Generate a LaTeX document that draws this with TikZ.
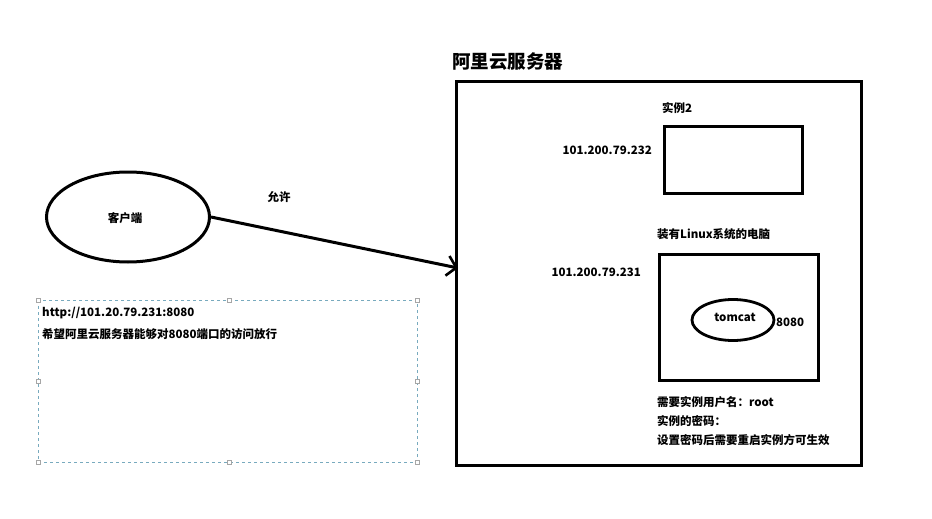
\documentclass[tikz,border=0pt]{standalone}
\usepackage{fontspec}
\setmainfont{Noto Sans CJK SC}
\usetikzlibrary{arrows.meta,shapes.geometric}
\definecolor{dashblue}{RGB}{120,170,190}
\tikzset{
  thick box/.style={draw=black,line width=3pt},
  lbl/.style={inner sep=0pt,font=\fontsize{11.5}{13}\selectfont},
  blbl/.style={inner sep=0pt,font=\fontsize{11.5}{13}\selectfont\bfseries},
  handle/.style={draw=gray!70,fill=white,line width=0.4pt,minimum size=3.5pt,inner sep=0pt,rectangle},
}
\begin{document}
\begin{tikzpicture}[x=1pt,y=-1pt]
\useasboundingbox (0,0) rectangle (932,519);
% title
\node[inner sep=0pt,anchor=west,font=\fontsize{18.5}{20}\selectfont\bfseries] (title) at (452,62) {阿里云服务器};
% server box
\draw[thick box] (456,82) rectangle (861,465);
\coordinate (srvleft) at (458,268);
% instance 2
\node[blbl,anchor=west] (inst2lbl) at (662,108) {实例2};
\node[thick box,minimum width=138pt,minimum height=67pt,anchor=north west] (inst2) at (663,125) {};
\node[blbl,anchor=east] (ip232) at (652,150) {101.200.79.232};
% linux machine
\node[blbl,anchor=west] (linuxlbl) at (657,234) {装有Linux系统的电脑};
\node[thick box,minimum width=159pt,minimum height=126pt,anchor=north west] (linux) at (658,253) {};
\node[blbl,anchor=east] (ip231) at (641,272) {101.200.79.231};
\node[draw=black,line width=2.8pt,ellipse,minimum width=82pt,minimum height=41pt,inner sep=0pt] (tomcat) at (733,320) {};
\node[blbl] (tomcatlbl) at (735,317) {tomcat};
\node[blbl,anchor=west] (port) at (776,322) {8080};
\node[blbl,anchor=west] (t1) at (657,402) {需要实例用户名：root};
\node[blbl,anchor=west] (t2) at (657,421) {实例的密码：};
\node[blbl,anchor=west] (t3) at (657,440) {设置密码后需要重启实例方可生效};
% client
\node[draw=black,line width=3pt,ellipse,minimum width=163pt,minimum height=90pt,inner sep=0pt] (client) at (128,217) {};
\node[blbl] (clientlbl) at (125,218) {客户端};
\node[blbl] (allow) at (279,197) {允许};
\draw[line width=3pt,-{Straight Barb[length=9pt,width=20pt,line width=2.6pt]}] (client.east) -- (srvleft);
% dashed text box
\draw[dashblue,dashed,line width=0.8pt] (38,300) rectangle (417,462);
\foreach \x in {38,229,417}{\node[handle] at (\x,300) {}; \node[handle] at (\x,462) {};}
\node[handle] at (38,381) {};
\node[handle] at (417,381) {};
\node[blbl,anchor=west] (url) at (42,313) {http://101.20.79.231:8080};
\node[blbl,anchor=west] (wish) at (42,334) {希望阿里云服务器能够对8080端口的访问放行};
\end{tikzpicture}
\end{document}
